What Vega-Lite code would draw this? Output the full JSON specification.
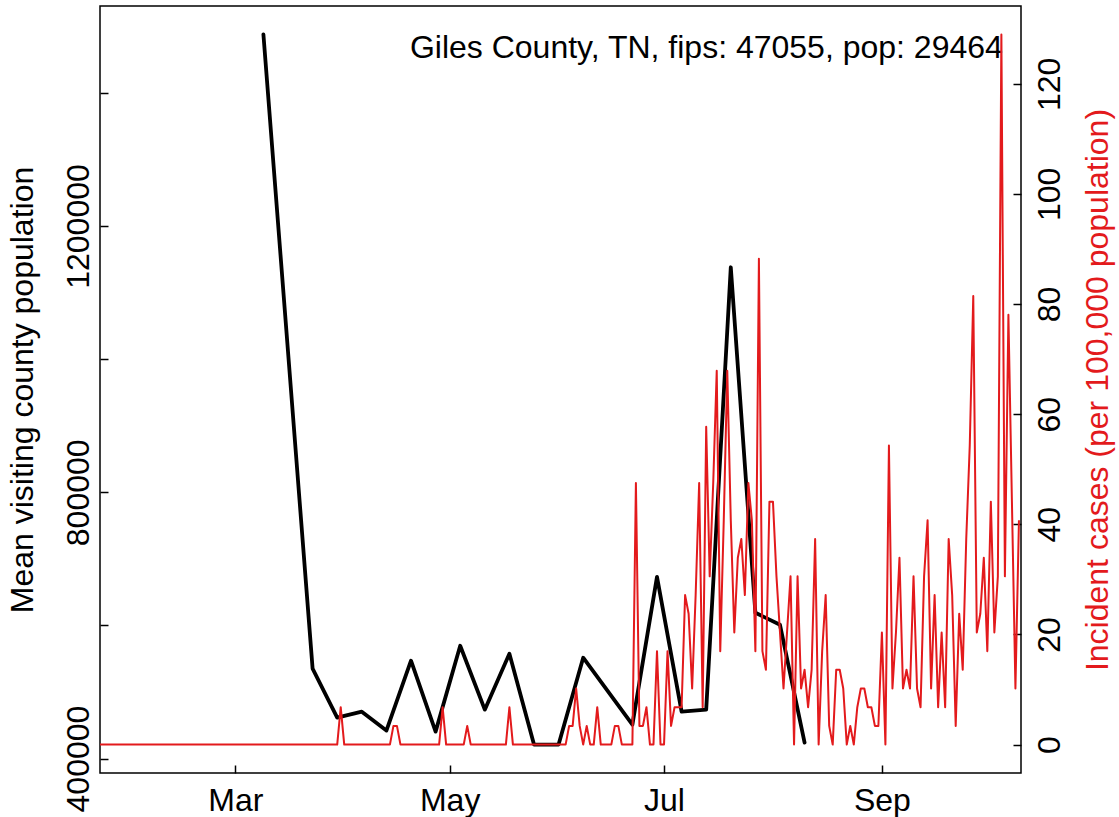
{
  "$schema": "https://vega.github.io/schema/vega-lite/v6.json",
  "width": 921,
  "height": 767,
  "autosize": "none",
  "padding": {"left": 100, "top": 6, "right": 98, "bottom": 44},
  "background": "white",
  "config": {
    "view": {"stroke": "black", "strokeWidth": 1.5},
    "font": "Liberation Sans",
    "axis": {"grid": false, "domain": false, "tickColor": "black", "tickWidth": 1.5, "labelColor": "black", "labelFont": "Liberation Sans", "titleFont": "Liberation Sans", "titleFontWeight": "normal", "labelOverlap": false, "labelFlush": false}
  },
  "datasets": {
    "visits": [
      {"date": "2020-03-09", "visitors": 1487800},
      {"date": "2020-03-23", "visitors": 535000},
      {"date": "2020-03-30", "visitors": 461500},
      {"date": "2020-04-06", "visitors": 470500},
      {"date": "2020-04-13", "visitors": 442000},
      {"date": "2020-04-20", "visitors": 547000},
      {"date": "2020-04-27", "visitors": 440500},
      {"date": "2020-05-04", "visitors": 569500},
      {"date": "2020-05-11", "visitors": 473500},
      {"date": "2020-05-18", "visitors": 557500},
      {"date": "2020-05-25", "visitors": 421000},
      {"date": "2020-06-01", "visitors": 421000},
      {"date": "2020-06-08", "visitors": 551500},
      {"date": "2020-06-22", "visitors": 451000},
      {"date": "2020-06-29", "visitors": 673000},
      {"date": "2020-07-06", "visitors": 470500},
      {"date": "2020-07-13", "visitors": 473500},
      {"date": "2020-07-20", "visitors": 1138000},
      {"date": "2020-07-27", "visitors": 619000},
      {"date": "2020-08-03", "visitors": 601000},
      {"date": "2020-08-10", "visitors": 424000}
    ],
    "label": [
      {"date": "2020-10-05T10:00:00Z", "visitors": 1452400, "text": "Giles County, TN, fips: 47055, pop: 29464"}
    ],
    "cases": [
      {"date": "2020-01-22", "cases": 0}, {"date": "2020-01-23", "cases": 0}, {"date": "2020-01-24", "cases": 0}, {"date": "2020-01-25", "cases": 0}, {"date": "2020-01-26", "cases": 0},
      {"date": "2020-01-27", "cases": 0}, {"date": "2020-01-28", "cases": 0}, {"date": "2020-01-29", "cases": 0}, {"date": "2020-01-30", "cases": 0}, {"date": "2020-01-31", "cases": 0},
      {"date": "2020-02-01", "cases": 0}, {"date": "2020-02-02", "cases": 0}, {"date": "2020-02-03", "cases": 0}, {"date": "2020-02-04", "cases": 0}, {"date": "2020-02-05", "cases": 0},
      {"date": "2020-02-06", "cases": 0}, {"date": "2020-02-07", "cases": 0}, {"date": "2020-02-08", "cases": 0}, {"date": "2020-02-09", "cases": 0}, {"date": "2020-02-10", "cases": 0},
      {"date": "2020-02-11", "cases": 0}, {"date": "2020-02-12", "cases": 0}, {"date": "2020-02-13", "cases": 0}, {"date": "2020-02-14", "cases": 0}, {"date": "2020-02-15", "cases": 0},
      {"date": "2020-02-16", "cases": 0}, {"date": "2020-02-17", "cases": 0}, {"date": "2020-02-18", "cases": 0}, {"date": "2020-02-19", "cases": 0}, {"date": "2020-02-20", "cases": 0},
      {"date": "2020-02-21", "cases": 0}, {"date": "2020-02-22", "cases": 0}, {"date": "2020-02-23", "cases": 0}, {"date": "2020-02-24", "cases": 0}, {"date": "2020-02-25", "cases": 0},
      {"date": "2020-02-26", "cases": 0}, {"date": "2020-02-27", "cases": 0}, {"date": "2020-02-28", "cases": 0}, {"date": "2020-02-29", "cases": 0},
      {"date": "2020-03-01", "cases": 0}, {"date": "2020-03-02", "cases": 0}, {"date": "2020-03-03", "cases": 0}, {"date": "2020-03-04", "cases": 0}, {"date": "2020-03-05", "cases": 0},
      {"date": "2020-03-06", "cases": 0}, {"date": "2020-03-07", "cases": 0}, {"date": "2020-03-08", "cases": 0}, {"date": "2020-03-09", "cases": 0}, {"date": "2020-03-10", "cases": 0},
      {"date": "2020-03-11", "cases": 0}, {"date": "2020-03-12", "cases": 0}, {"date": "2020-03-13", "cases": 0}, {"date": "2020-03-14", "cases": 0}, {"date": "2020-03-15", "cases": 0},
      {"date": "2020-03-16", "cases": 0}, {"date": "2020-03-17", "cases": 0}, {"date": "2020-03-18", "cases": 0}, {"date": "2020-03-19", "cases": 0}, {"date": "2020-03-20", "cases": 0},
      {"date": "2020-03-21", "cases": 0}, {"date": "2020-03-22", "cases": 0}, {"date": "2020-03-23", "cases": 0}, {"date": "2020-03-24", "cases": 0}, {"date": "2020-03-25", "cases": 0},
      {"date": "2020-03-26", "cases": 0}, {"date": "2020-03-27", "cases": 0}, {"date": "2020-03-28", "cases": 0}, {"date": "2020-03-29", "cases": 0}, {"date": "2020-03-30", "cases": 0},
      {"date": "2020-03-31", "cases": 6.79},
      {"date": "2020-04-01", "cases": 0}, {"date": "2020-04-02", "cases": 0}, {"date": "2020-04-03", "cases": 0}, {"date": "2020-04-04", "cases": 0}, {"date": "2020-04-05", "cases": 0},
      {"date": "2020-04-06", "cases": 0}, {"date": "2020-04-07", "cases": 0}, {"date": "2020-04-08", "cases": 0}, {"date": "2020-04-09", "cases": 0}, {"date": "2020-04-10", "cases": 0},
      {"date": "2020-04-11", "cases": 0}, {"date": "2020-04-12", "cases": 0}, {"date": "2020-04-13", "cases": 0}, {"date": "2020-04-14", "cases": 0}, {"date": "2020-04-15", "cases": 3.39},
      {"date": "2020-04-16", "cases": 3.39}, {"date": "2020-04-17", "cases": 0}, {"date": "2020-04-18", "cases": 0}, {"date": "2020-04-19", "cases": 0}, {"date": "2020-04-20", "cases": 0},
      {"date": "2020-04-21", "cases": 0}, {"date": "2020-04-22", "cases": 0}, {"date": "2020-04-23", "cases": 0}, {"date": "2020-04-24", "cases": 0}, {"date": "2020-04-25", "cases": 0},
      {"date": "2020-04-26", "cases": 0}, {"date": "2020-04-27", "cases": 0}, {"date": "2020-04-28", "cases": 0}, {"date": "2020-04-29", "cases": 6.79}, {"date": "2020-04-30", "cases": 0},
      {"date": "2020-05-01", "cases": 0}, {"date": "2020-05-02", "cases": 0}, {"date": "2020-05-03", "cases": 0}, {"date": "2020-05-04", "cases": 0}, {"date": "2020-05-05", "cases": 0},
      {"date": "2020-05-06", "cases": 3.39}, {"date": "2020-05-07", "cases": 0}, {"date": "2020-05-08", "cases": 0}, {"date": "2020-05-09", "cases": 0}, {"date": "2020-05-10", "cases": 0},
      {"date": "2020-05-11", "cases": 0}, {"date": "2020-05-12", "cases": 0}, {"date": "2020-05-13", "cases": 0}, {"date": "2020-05-14", "cases": 0}, {"date": "2020-05-15", "cases": 0},
      {"date": "2020-05-16", "cases": 0}, {"date": "2020-05-17", "cases": 0}, {"date": "2020-05-18", "cases": 6.79}, {"date": "2020-05-19", "cases": 0}, {"date": "2020-05-20", "cases": 0},
      {"date": "2020-05-21", "cases": 0}, {"date": "2020-05-22", "cases": 0}, {"date": "2020-05-23", "cases": 0}, {"date": "2020-05-24", "cases": 0}, {"date": "2020-05-25", "cases": 0},
      {"date": "2020-05-26", "cases": 0}, {"date": "2020-05-27", "cases": 0}, {"date": "2020-05-28", "cases": 0}, {"date": "2020-05-29", "cases": 0}, {"date": "2020-05-30", "cases": 0},
      {"date": "2020-05-31", "cases": 0},
      {"date": "2020-06-01", "cases": 0}, {"date": "2020-06-02", "cases": 0}, {"date": "2020-06-03", "cases": 0}, {"date": "2020-06-04", "cases": 3.39}, {"date": "2020-06-05", "cases": 3.39},
      {"date": "2020-06-06", "cases": 10.18}, {"date": "2020-06-07", "cases": 3.39}, {"date": "2020-06-08", "cases": 0}, {"date": "2020-06-09", "cases": 3.39}, {"date": "2020-06-10", "cases": 0},
      {"date": "2020-06-11", "cases": 0}, {"date": "2020-06-12", "cases": 6.79}, {"date": "2020-06-13", "cases": 0}, {"date": "2020-06-14", "cases": 0}, {"date": "2020-06-15", "cases": 0},
      {"date": "2020-06-16", "cases": 0}, {"date": "2020-06-17", "cases": 3.39}, {"date": "2020-06-18", "cases": 3.39}, {"date": "2020-06-19", "cases": 0}, {"date": "2020-06-20", "cases": 0},
      {"date": "2020-06-21", "cases": 0}, {"date": "2020-06-22", "cases": 0}, {"date": "2020-06-23", "cases": 47.52}, {"date": "2020-06-24", "cases": 3.39}, {"date": "2020-06-25", "cases": 3.39},
      {"date": "2020-06-26", "cases": 6.79}, {"date": "2020-06-27", "cases": 0}, {"date": "2020-06-28", "cases": 0}, {"date": "2020-06-29", "cases": 16.97}, {"date": "2020-06-30", "cases": 0},
      {"date": "2020-07-01", "cases": 0}, {"date": "2020-07-02", "cases": 16.97}, {"date": "2020-07-03", "cases": 3.39}, {"date": "2020-07-04", "cases": 6.79}, {"date": "2020-07-05", "cases": 6.79},
      {"date": "2020-07-06", "cases": 6.79}, {"date": "2020-07-07", "cases": 27.15}, {"date": "2020-07-08", "cases": 23.76}, {"date": "2020-07-09", "cases": 10.18}, {"date": "2020-07-10", "cases": 27.15},
      {"date": "2020-07-11", "cases": 47.52}, {"date": "2020-07-12", "cases": 6.79}, {"date": "2020-07-13", "cases": 57.7}, {"date": "2020-07-14", "cases": 30.55}, {"date": "2020-07-15", "cases": 47.52},
      {"date": "2020-07-16", "cases": 67.88}, {"date": "2020-07-17", "cases": 16.97}, {"date": "2020-07-18", "cases": 40.73}, {"date": "2020-07-19", "cases": 67.88}, {"date": "2020-07-20", "cases": 40.73},
      {"date": "2020-07-21", "cases": 20.36}, {"date": "2020-07-22", "cases": 33.94}, {"date": "2020-07-23", "cases": 37.33}, {"date": "2020-07-24", "cases": 27.15}, {"date": "2020-07-25", "cases": 47.52},
      {"date": "2020-07-26", "cases": 40.73}, {"date": "2020-07-27", "cases": 16.97}, {"date": "2020-07-28", "cases": 88.24}, {"date": "2020-07-29", "cases": 16.97}, {"date": "2020-07-30", "cases": 13.58},
      {"date": "2020-07-31", "cases": 44.12},
      {"date": "2020-08-01", "cases": 44.12}, {"date": "2020-08-02", "cases": 30.55}, {"date": "2020-08-03", "cases": 20.36}, {"date": "2020-08-04", "cases": 10.18}, {"date": "2020-08-05", "cases": 20.36},
      {"date": "2020-08-06", "cases": 30.55}, {"date": "2020-08-07", "cases": 0}, {"date": "2020-08-08", "cases": 30.55}, {"date": "2020-08-09", "cases": 10.18}, {"date": "2020-08-10", "cases": 13.58},
      {"date": "2020-08-11", "cases": 6.79}, {"date": "2020-08-12", "cases": 13.58}, {"date": "2020-08-13", "cases": 37.33}, {"date": "2020-08-14", "cases": 0}, {"date": "2020-08-15", "cases": 16.97},
      {"date": "2020-08-16", "cases": 27.15}, {"date": "2020-08-17", "cases": 3.39}, {"date": "2020-08-18", "cases": 0}, {"date": "2020-08-19", "cases": 13.58}, {"date": "2020-08-20", "cases": 13.58},
      {"date": "2020-08-21", "cases": 10.18}, {"date": "2020-08-22", "cases": 0}, {"date": "2020-08-23", "cases": 3.39}, {"date": "2020-08-24", "cases": 0}, {"date": "2020-08-25", "cases": 6.79},
      {"date": "2020-08-26", "cases": 10.18}, {"date": "2020-08-27", "cases": 10.18}, {"date": "2020-08-28", "cases": 6.79}, {"date": "2020-08-29", "cases": 6.79}, {"date": "2020-08-30", "cases": 3.39},
      {"date": "2020-08-31", "cases": 3.39},
      {"date": "2020-09-01", "cases": 20.36}, {"date": "2020-09-02", "cases": 0}, {"date": "2020-09-03", "cases": 54.3}, {"date": "2020-09-04", "cases": 10.18}, {"date": "2020-09-05", "cases": 20.36},
      {"date": "2020-09-06", "cases": 33.94}, {"date": "2020-09-07", "cases": 10.18}, {"date": "2020-09-08", "cases": 13.58}, {"date": "2020-09-09", "cases": 10.18}, {"date": "2020-09-10", "cases": 30.55},
      {"date": "2020-09-11", "cases": 10.18}, {"date": "2020-09-12", "cases": 6.79}, {"date": "2020-09-13", "cases": 30.55}, {"date": "2020-09-14", "cases": 40.73}, {"date": "2020-09-15", "cases": 10.18},
      {"date": "2020-09-16", "cases": 27.15}, {"date": "2020-09-17", "cases": 6.79}, {"date": "2020-09-18", "cases": 20.36}, {"date": "2020-09-19", "cases": 6.79}, {"date": "2020-09-20", "cases": 37.33},
      {"date": "2020-09-21", "cases": 27.15}, {"date": "2020-09-22", "cases": 3.39}, {"date": "2020-09-23", "cases": 23.76}, {"date": "2020-09-24", "cases": 13.58}, {"date": "2020-09-25", "cases": 37.33},
      {"date": "2020-09-26", "cases": 54.3}, {"date": "2020-09-27", "cases": 81.46}, {"date": "2020-09-28", "cases": 20.36}, {"date": "2020-09-29", "cases": 23.76}, {"date": "2020-09-30", "cases": 33.94},
      {"date": "2020-10-01", "cases": 16.97}, {"date": "2020-10-02", "cases": 44.12}, {"date": "2020-10-03", "cases": 20.36}, {"date": "2020-10-04", "cases": 30.55}, {"date": "2020-10-05", "cases": 128.97},
      {"date": "2020-10-06", "cases": 30.55}, {"date": "2020-10-07", "cases": 78.06}, {"date": "2020-10-08", "cases": 44.12}, {"date": "2020-10-09", "cases": 10.18}, {"date": "2020-10-10", "cases": 40.73}
    ]
  },
  "layer": [
    {
      "layer": [
        {
          "data": {"name": "visits"},
          "mark": {"type": "line", "color": "black", "strokeWidth": 3.8, "strokeCap": "round", "strokeJoin": "round"},
          "encoding": {
            "x": {
              "field": "date", "type": "temporal",
              "scale": {"type": "utc", "domain": [{"year": 2020, "month": 1, "date": 22, "hours": 12, "utc": true}, {"year": 2020, "month": 10, "date": 10, "hours": 14, "utc": true}], "nice": false},
              "axis": {
                "title": null,
                "values": [{"year": 2020, "month": 3, "date": 1, "utc": true}, {"year": 2020, "month": 5, "date": 1, "utc": true}, {"year": 2020, "month": 7, "date": 1, "utc": true}, {"year": 2020, "month": 9, "date": 1, "utc": true}],
                "labelExpr": "utcFormat(datum.value, '%b')",
                "tickSize": -8, "labelPadding": 20, "labelFontSize": 32, "labelAngle": 0, "labelAlign": "center", "labelBaseline": "top"
              }
            },
            "y": {
              "field": "visitors", "type": "quantitative",
              "scale": {"domain": [378328, 1530472], "nice": false, "zero": false},
              "axis": {
                "orient": "left",
                "title": "Mean visiting county population",
                "titleFontSize": 32, "titleColor": "black", "titlePadding": 23, "titleAngle": -90, "titleBaseline": "bottom",
                "values": [400000, 600000, 800000, 1000000, 1200000, 1400000],
                "labelExpr": "datum.value % 400000 === 0 ? format(datum.value, 'd') : ''",
                "labelAngle": -90, "labelAlign": "center", "labelBaseline": "alphabetic",
                "tickSize": -8, "labelPadding": 20, "labelFontSize": 32
              }
            }
          }
        },
        {
          "data": {"name": "label"},
          "mark": {"type": "text", "align": "right", "baseline": "alphabetic", "fontSize": 32, "color": "black", "font": "Liberation Sans"},
          "encoding": {
            "x": {"field": "date", "type": "temporal"},
            "y": {"field": "visitors", "type": "quantitative"},
            "text": {"field": "text"}
          }
        }
      ]
    },
    {
      "data": {"name": "cases"},
      "mark": {"type": "line", "color": "#e31a1c", "strokeWidth": 2, "clip": true, "strokeJoin": "round"},
      "encoding": {
        "x": {"field": "date", "type": "temporal"},
        "y": {
          "field": "cases", "type": "quantitative",
          "scale": {"domain": [-5.16, 134.13], "nice": false, "zero": false},
          "axis": {
            "orient": "right",
            "title": "Incident cases (per 100,000 population)",
            "titleColor": "#e31a1c", "titleFontSize": 32, "titleAngle": -90, "titleBaseline": "top", "titlePadding": 17,
            "values": [0, 20, 40, 60, 80, 100, 120],
            "labelAngle": -90, "labelAlign": "center", "labelBaseline": "top",
            "tickSize": -8, "labelPadding": 21, "labelFontSize": 32
          }
        }
      }
    }
  ],
  "resolve": {"scale": {"y": "independent"}, "axis": {"y": "independent"}}
}
